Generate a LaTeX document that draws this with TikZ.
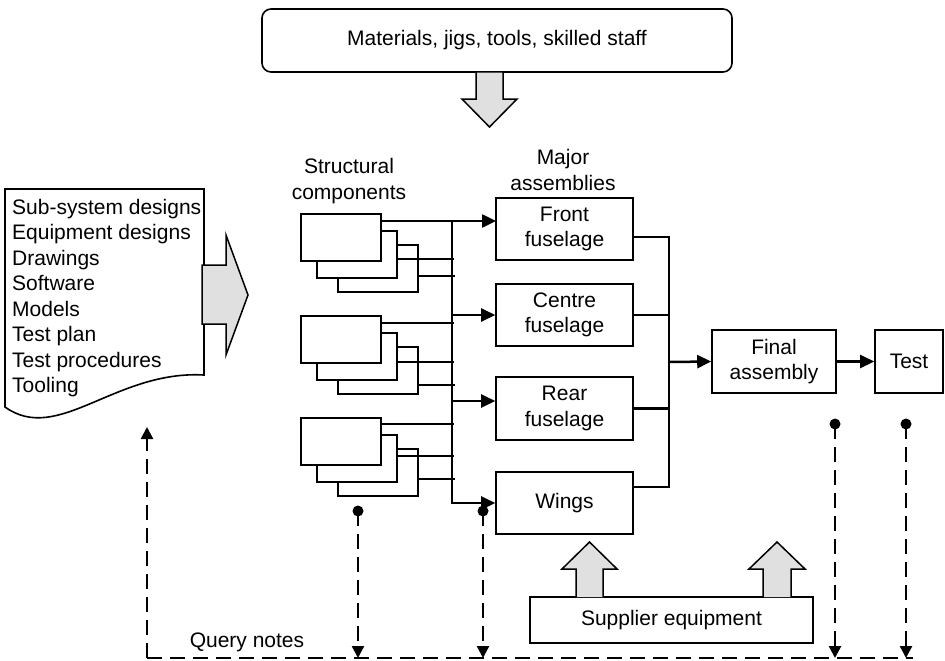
\documentclass[tikz,border=0pt]{standalone}
\usepackage{fontspec}
\setmainfont{Liberation Sans}
\usetikzlibrary{arrows.meta,calc}
\definecolor{panelgray}{HTML}{E0E0E0}
\begin{document}
\begin{tikzpicture}[x=1pt,y=-1pt,
  every node/.style={font=\fontsize{21}{25.5}\selectfont},
  box/.style={draw, line width=1.6pt, fill=white, align=center, inner sep=0pt},
  comp/.style={draw, line width=1.6pt, fill=white, minimum width=80pt, minimum height=47pt, inner sep=0pt, anchor=north west},
  wire/.style={line width=2pt},
  busline/.style={line width=2.5pt},
  tip/.style={-{Triangle[length=14pt,width=13pt]}},
  qtip/.style={-{Triangle[length=12pt,width=12pt]}},
  query/.style={line width=2.5pt, dash pattern=on 15pt off 8pt},
  dot/.style={circle, fill=black, minimum size=11pt, inner sep=0pt},
  bigarrow/.style={draw, line width=1.5pt, fill=panelgray, line join=miter}
]
\useasboundingbox (0,0) rectangle (945,661);

% resources box and its feed arrow
\node[box, rounded corners=9pt, minimum width=470pt, minimum height=63pt] (res) at (497,40.5) {Materials, jigs, tools, skilled staff};
\draw[bigarrow] (476,72) -- (503,72) -- (503,99) -- (517,99) -- (489.5,127) -- (462,99) -- (476,99) -- cycle;

% design documentation sheet
\draw[line width=1.6pt, fill=white] (5,189) -- (204,189) -- (204,375)
  .. controls (115,370) and (58,445) .. (5,407) -- cycle;
\node[align=left, anchor=north west, inner sep=0pt] (doclist) at (12,199)
  {Sub-system designs\\Equipment designs\\Drawings\\Software\\Models\\Test plan\\Test procedures\\Tooling};
\draw[bigarrow] (202,265) -- (226,265) -- (226,235) -- (248,295) -- (226,355) -- (226,324) -- (202,324) -- cycle;

% column headings
\node[align=center] (hcomp) at (349,181) {Structural\\components};
\node[align=center] (hmaj) at (563,170) {Major\\assemblies};

% component stacks
\foreach \k/\y in {1/213,2/315,3/417}{
  \node[comp] (s\k c) at (337,\y+31) {};
  \node[comp] (s\k b) at (316,\y+17) {};
  \node[comp] (s\k a) at (300,\y) {};
}

% major assemblies
\node[box, minimum width=137pt, minimum height=62pt] (front) at (564.5,229) {Front\\fuselage};
\node[box, minimum width=137pt, minimum height=62pt] (centre) at (564.5,315) {Centre\\fuselage};
\node[box, minimum width=137pt, minimum height=63pt] (rear) at (564.5,408.5) {Rear\\fuselage};
\node[box, minimum width=137pt, minimum height=62pt] (wings) at (564.5,503) {Wings};

\node[box, minimum width=124pt, minimum height=63pt] (final) at (774,361.5) {Final\\assembly};
\node[box, minimum width=68pt, minimum height=63pt] (test) at (909,361.5) {Test};

% component feeds into the bus
\draw[wire] (s1b.north east) ++(0,29) -- ++(56,0);
\draw[wire] (s1c.north east) ++(0,32) -- ++(36,0);
\draw[wire] (s2a.north east) ++(0,8) -- ++(72,0);
\draw[wire] (s2b.north east) ++(0,30) -- ++(56,0);
\draw[wire] (s2c.north east) ++(0,39) -- ++(36,0);
\draw[wire] (s3a.north east) ++(0,7) -- ++(72,0);
\draw[wire] (s3b.north east) ++(0,22) -- ++(56,0);
\draw[wire] (s3c.north east) ++(0,31) -- ++(36,0);

% bus to the major assemblies
\coordinate (bustop) at (452,221);
\coordinate (jc) at (452,315);
\coordinate (jr) at (452,401);
\draw[busline, tip] (s1a.north east) ++(0,8) -- (bustop) -- ++(44,0);
\draw[busline, tip] (bustop) |- (wings.west);
\draw[busline, tip] (jc) -- (jc -| centre.west);
\draw[busline, tip] (jr) -- (jr -| rear.west);

% collector into final assembly
\coordinate (col) at (669,362);
\draw[busline] ([yshift=-8pt]front.east) -| (col);
\draw[busline] ([yshift=16pt]wings.east) -| (col);
\draw[busline] (centre.east) -- (centre.east -| col);
\draw[busline] (rear.east) -- (rear.east -| col);
\draw[busline, tip] (col) -- (final.west);
\draw[busline, tip] (final.east) -- (test.west);

% supplier equipment
\node[box, minimum width=283pt, minimum height=46pt] (supp) at (671.5,620) {Supplier equipment};
\draw[bigarrow] (576,597) -- (576,569) -- (562,569) -- (589.5,542) -- (617,569) -- (603,569) -- (603,597);
\draw[bigarrow] (763,597) -- (763,569) -- (749,569) -- (777,542) -- (805,569) -- (791,569) -- (791,597);

% query notes loop
\coordinate (ql) at (147,658);
\coordinate (qr) at (913,658);
\coordinate (qup) at (147,427);
\draw[query] (ql) -- (qr);
\draw[query, qtip] (ql) -- (qup);
\node (qlabel) at (247,642) {Query notes};

\node[dot] (d1) at (358,511) {};
\node[dot] (d2) at (483,511) {};
\node[dot] (d3) at (835,424) {};
\node[dot] (d4) at (906,424) {};
\foreach \d in {d1,d2,d3,d4}{
  \draw[query, qtip] (\d.center) -- (\d |- ql);
}
\end{tikzpicture}
\end{document}
